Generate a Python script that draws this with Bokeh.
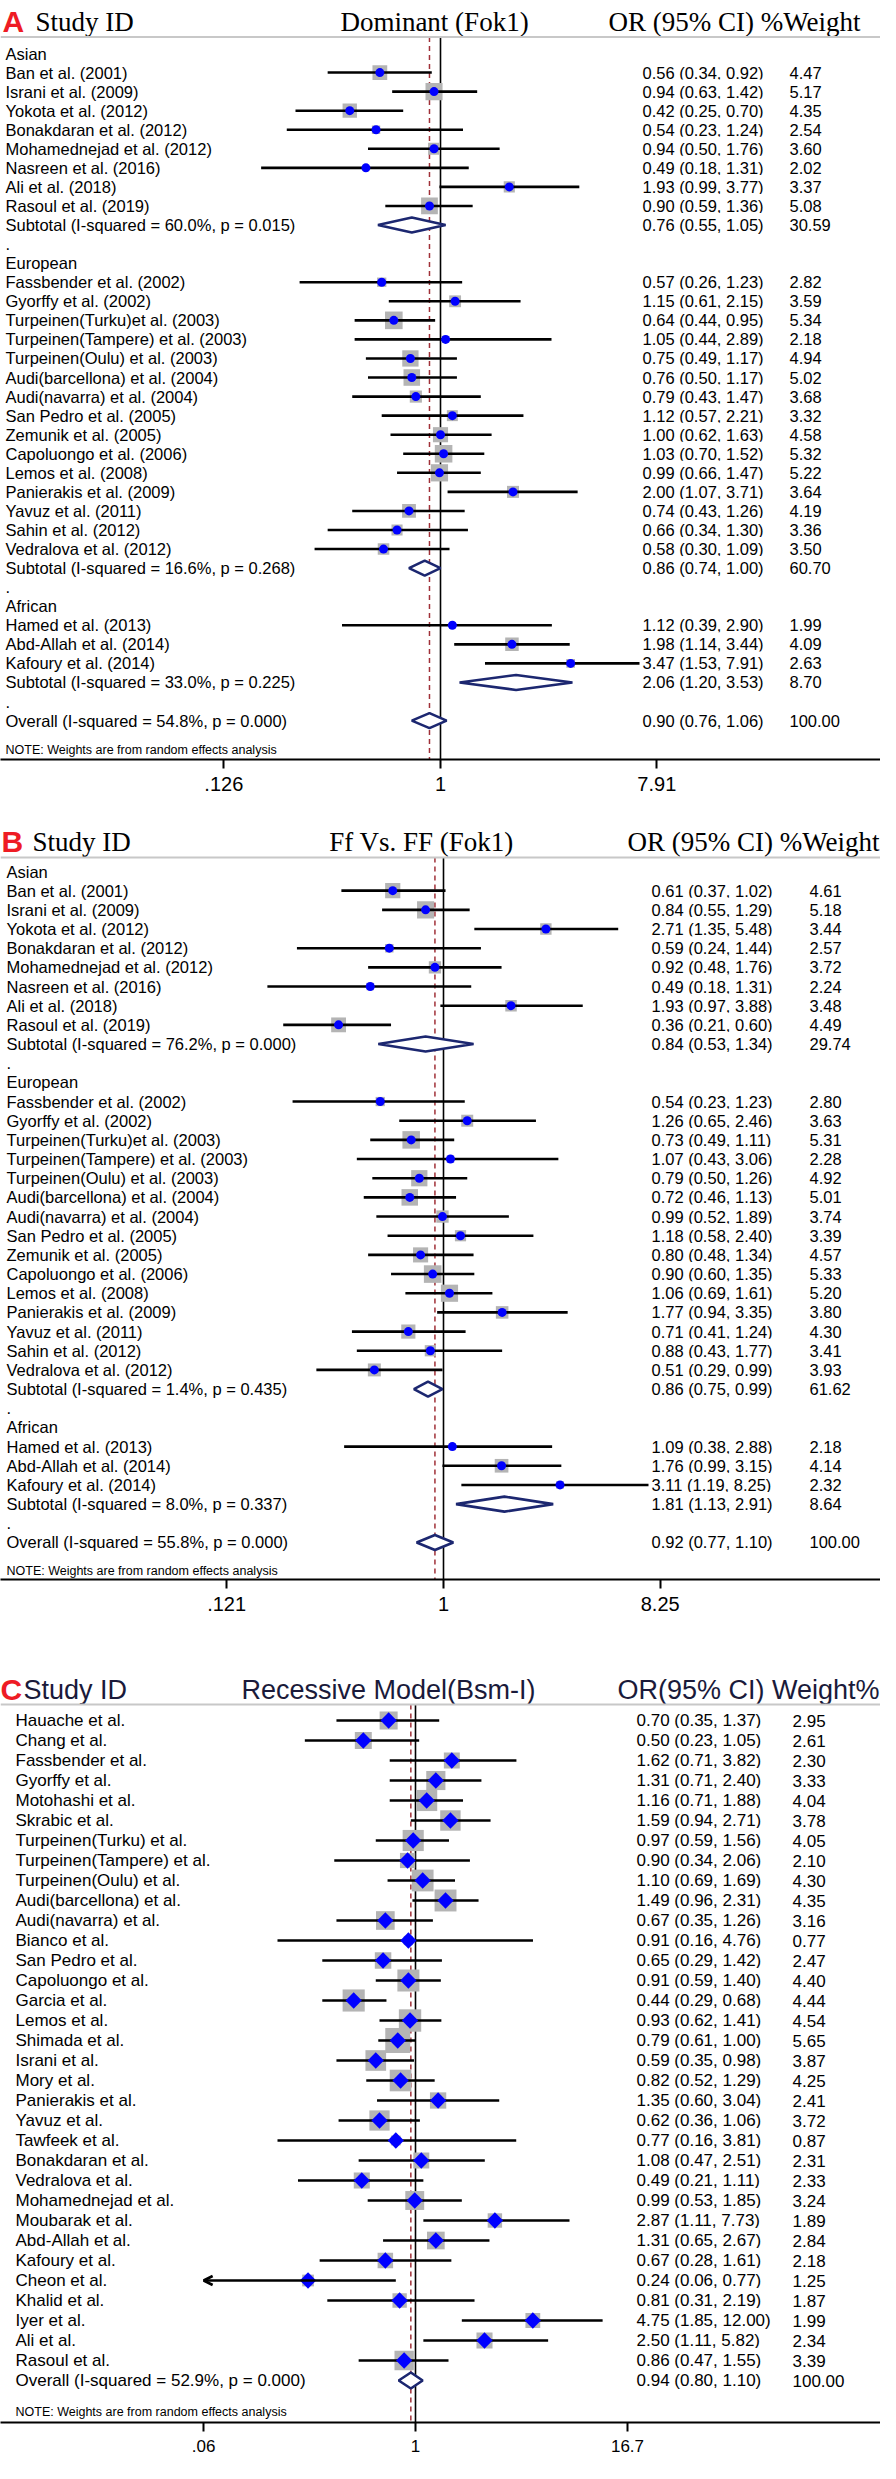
import math
from bokeh.plotting import figure
from bokeh.models import Range1d, FixedTicker, Span, Arrow, OpenHead
from bokeh.layouts import column
from bokeh.embed import file_html
from bokeh.resources import INLINE
from bokeh.core.properties import value

# ---------------- Panel A : Dominant (Fok1) ----------------
a_asian_studies = ["Ban et al. (2001)", "Israni et al. (2009)", "Yokota et al. (2012)",
                   "Bonakdaran et al. (2012)", "Mohamednejad  et al. (2012)", "Nasreen et al. (2016)",
                   "Ali et al. (2018)", "Rasoul et al. (2019)"]
a_asian_or = [0.56, 0.94, 0.42, 0.54, 0.94, 0.49, 1.93, 0.90]
a_asian_lo = [0.34, 0.63, 0.25, 0.23, 0.50, 0.18, 0.99, 0.59]
a_asian_hi = [0.92, 1.42, 0.70, 1.24, 1.76, 1.31, 3.77, 1.36]
a_asian_w = [4.47, 5.17, 4.35, 2.54, 3.60, 2.02, 3.37, 5.08]
a_asian_sub = ["Subtotal  (I-squared = 60.0%, p = 0.015)", 0.76, 0.55, 1.05, 30.59]

eu_studies = ["Fassbender et al. (2002)", "Gyorffy et al. (2002)", "Turpeinen(Turku)et al. (2003)",
              "Turpeinen(Tampere) et al. (2003)", "Turpeinen(Oulu) et al. (2003)",
              "Audi(barcellona) et al. (2004)", "Audi(navarra) et al. (2004)", "San Pedro et al. (2005)",
              "Zemunik et al. (2005)", "Capoluongo et al. (2006)", "Lemos et al. (2008)",
              "Panierakis et al. (2009)", "Yavuz et al. (2011)", "Sahin et al. (2012)",
              "Vedralova et al. (2012)"]
a_eu_or = [0.57, 1.15, 0.64, 1.05, 0.75, 0.76, 0.79, 1.12, 1.00, 1.03, 0.99, 2.00, 0.74, 0.66, 0.58]
a_eu_lo = [0.26, 0.61, 0.44, 0.44, 0.49, 0.50, 0.43, 0.57, 0.62, 0.70, 0.66, 1.07, 0.43, 0.34, 0.30]
a_eu_hi = [1.23, 2.15, 0.95, 2.89, 1.17, 1.17, 1.47, 2.21, 1.63, 1.52, 1.47, 3.71, 1.26, 1.30, 1.09]
a_eu_w = [2.82, 3.59, 5.34, 2.18, 4.94, 5.02, 3.68, 3.32, 4.58, 5.32, 5.22, 3.64, 4.19, 3.36, 3.50]
a_eu_sub = ["Subtotal  (I-squared = 16.6%, p = 0.268)", 0.86, 0.74, 1.00, 60.70]

af_studies = ["Hamed et al. (2013)", "Abd-Allah et al. (2014)", "Kafoury et al. (2014)"]
a_af_or = [1.12, 1.98, 3.47]
a_af_lo = [0.39, 1.14, 1.53]
a_af_hi = [2.90, 3.44, 7.91]
a_af_w = [1.99, 4.09, 2.63]
a_af_sub = ["Subtotal  (I-squared = 33.0%, p = 0.225)", 2.06, 1.20, 3.53, 8.70]

a_overall = ["Overall  (I-squared = 54.8%, p = 0.000)", 0.90, 0.76, 1.06, 100.00]
a_ticks = [0.126, 1, 7.91]
a_tick_labels = [".126", "1", "7.91"]

# ---------------- Panel B : Ff Vs. FF (Fok1) ----------------
b_asian_or = [0.61, 0.84, 2.71, 0.59, 0.92, 0.49, 1.93, 0.36]
b_asian_lo = [0.37, 0.55, 1.35, 0.24, 0.48, 0.18, 0.97, 0.21]
b_asian_hi = [1.02, 1.29, 5.48, 1.44, 1.76, 1.31, 3.88, 0.60]
b_asian_w = [4.61, 5.18, 3.44, 2.57, 3.72, 2.24, 3.48, 4.49]
b_asian_sub = ["Subtotal  (I-squared = 76.2%, p = 0.000)", 0.84, 0.53, 1.34, 29.74]

b_eu_or = [0.54, 1.26, 0.73, 1.07, 0.79, 0.72, 0.99, 1.18, 0.80, 0.90, 1.06, 1.77, 0.71, 0.88, 0.51]
b_eu_lo = [0.23, 0.65, 0.49, 0.43, 0.50, 0.46, 0.52, 0.58, 0.48, 0.60, 0.69, 0.94, 0.41, 0.43, 0.29]
b_eu_hi = [1.23, 2.46, 1.11, 3.06, 1.26, 1.13, 1.89, 2.40, 1.34, 1.35, 1.61, 3.35, 1.24, 1.77, 0.99]
b_eu_w = [2.80, 3.63, 5.31, 2.28, 4.92, 5.01, 3.74, 3.39, 4.57, 5.33, 5.20, 3.80, 4.30, 3.41, 3.93]
b_eu_sub = ["Subtotal  (I-squared = 1.4%, p = 0.435)", 0.86, 0.75, 0.99, 61.62]

b_af_or = [1.09, 1.76, 3.11]
b_af_lo = [0.38, 0.99, 1.19]
b_af_hi = [2.88, 3.15, 8.25]
b_af_w = [2.18, 4.14, 2.32]
b_af_sub = ["Subtotal  (I-squared = 8.0%, p = 0.337)", 1.81, 1.13, 2.91, 8.64]

b_overall = ["Overall  (I-squared = 55.8%, p = 0.000)", 0.92, 0.77, 1.10, 100.00]
b_ticks = [0.121, 1, 8.25]
b_tick_labels = [".121", "1", "8.25"]

# ---------------- Panel C : Recessive Model (Bsm-I) ----------------
c_studies = ["Hauache et al.", "Chang et al.", "Fassbender  et al.", "Gyorffy et al.", "Motohashi et al.",
             "Skrabic et al.", "Turpeinen(Turku) et al.", "Turpeinen(Tampere) et al.",
             "Turpeinen(Oulu) et al.", "Audi(barcellona) et al.", "Audi(navarra) et al.", "Bianco et al.",
             "San Pedro et al.", "Capoluongo et al.", "Garcia et al.", "Lemos et al.", "Shimada et al.",
             "Israni et al.", "Mory et al.", "Panierakis et al.", "Yavuz et al.", "Tawfeek et al.",
             "Bonakdaran et al.", "Vedralova et al.", "Mohamednejad et al.", "Moubarak et al.",
             "Abd-Allah et al.", "Kafoury et al.", "Cheon et al.", "Khalid et al.", "Iyer et al.",
             "Ali et al.", "Rasoul et al."]
c_or = [0.70, 0.50, 1.62, 1.31, 1.16, 1.59, 0.97, 0.90, 1.10, 1.49, 0.67, 0.91, 0.65, 0.91, 0.44, 0.93,
        0.79, 0.59, 0.82, 1.35, 0.62, 0.77, 1.08, 0.49, 0.99, 2.87, 1.31, 0.67, 0.24, 0.81, 4.75, 2.50, 0.86]
c_lo = [0.35, 0.23, 0.71, 0.71, 0.71, 0.94, 0.59, 0.34, 0.69, 0.96, 0.35, 0.16, 0.29, 0.59, 0.29, 0.62,
        0.61, 0.35, 0.52, 0.60, 0.36, 0.16, 0.47, 0.21, 0.53, 1.11, 0.65, 0.28, 0.06, 0.31, 1.85, 1.11, 0.47]
c_hi = [1.37, 1.05, 3.82, 2.40, 1.88, 2.71, 1.56, 2.06, 1.69, 2.31, 1.26, 4.76, 1.42, 1.40, 0.68, 1.41,
        1.00, 0.98, 1.29, 3.04, 1.06, 3.81, 2.51, 1.11, 1.85, 7.73, 2.67, 1.61, 0.77, 2.19, 12.00, 5.82, 1.55]
c_w = [2.95, 2.61, 2.30, 3.33, 4.04, 3.78, 4.05, 2.10, 4.30, 4.35, 3.16, 0.77, 2.47, 4.40, 4.44, 4.54,
       5.65, 3.87, 4.25, 2.41, 3.72, 0.87, 2.31, 2.33, 3.24, 1.89, 2.84, 2.18, 1.25, 1.87, 1.99, 2.34, 3.39]
c_overall = ["Overall  (I-squared = 52.9%, p = 0.000)", 0.94, 0.80, 1.10, 100.00]
c_ticks = [0.06, 1, 16.7]
c_tick_labels = [".06", "1", "16.7"]

NOTE = "NOTE: Weights are from random effects analysis"
SANS = value("Liberation Sans")
SERIF = value("Liberation Serif")
NAVY = "#1c2770"
DASH_RED = "#a03038"
BOX_GREY = "#b4b4b4"


def grouped_rows(groups, overall):
    rows = []
    for name, studies, ors, los, his, ws, sub in groups:
        rows.append(dict(kind="head", label=name))
        for s, o, l, h, w in zip(studies, ors, los, his, ws):
            rows.append(dict(kind="study", label=s, est=o, lo=l, hi=h, w=w))
        rows.append(dict(kind="sub", label=sub[0], est=sub[1], lo=sub[2], hi=sub[3], w=sub[4]))
        rows.append(dict(kind="blank", label="."))
    rows.append(dict(kind="sub", label=overall[0], est=overall[1], lo=overall[2], hi=overall[3], w=overall[4]))
    return rows


def flat_rows(studies, ors, los, his, ws, overall):
    rows = [dict(kind="study", label=s, est=o, lo=l, hi=h, w=w) for s, o, l, h, w in zip(studies, ors, los, his, ws)]
    rows.append(dict(kind="sub", label=overall[0], est=overall[1], lo=overall[2], hi=overall[3], w=overall[4]))
    return rows


def make_panel(rows, cfg):
    K, X1 = cfg["K"], cfg["X1"]

    def dx(px):
        return math.exp((px - X1) / K)

    def dy(py):
        return (py - cfg["row0"]) / cfg["sp"]

    top, axis_y, H = cfg["top"], cfg["axis"], cfg["height"]
    p = figure(width=880, height=H, x_axis_type="log",
               x_range=Range1d(dx(8), dx(888)),
               y_range=Range1d(start=dy(axis_y), end=dy(top)),
               output_backend="svg", toolbar_location=None, y_axis_location=None,
               min_border_left=0, min_border_right=0, min_border_top=0,
               min_border_bottom=H - (axis_y - top))
    p.outline_line_color = None
    p.xgrid.visible = False
    p.ygrid.visible = False
    p.background_fill_color = "white"
    p.border_fill_color = "white"

    ax = p.xaxis[0]
    ax.ticker = FixedTicker(ticks=cfg["ticks"])
    ax.major_label_overrides = {t: l for t, l in zip(cfg["ticks"], cfg["tick_labels"])}
    ax.minor_tick_line_color = None
    ax.major_tick_in = 0
    ax.major_tick_out = 9
    ax.major_tick_line_width = 2
    ax.axis_line_width = 2
    ax.axis_line_color = "black"
    ax.major_tick_line_color = "black"
    ax.major_label_text_font = "Liberation Sans"
    ax.major_label_text_font_size = cfg["tick_font"]
    ax.major_label_text_color = "black"
    ax.major_label_standoff = 8

    # separator line below the header
    p.add_layout(Span(location=dy(cfg["gray"]), dimension="width", line_color="#c8c8c8", line_width=2))

    overall = rows[-1]
    y_top, y_bot = dy(cfg["gray"]), dy(axis_y)
    p.segment(x0=[1], y0=[y_top], x1=[1], y1=[y_bot], line_color="black", line_width=1.6)
    p.segment(x0=[overall["est"]], y0=[y_top], x1=[overall["est"]], y1=[y_bot],
              line_color=DASH_RED, line_width=1.5, line_dash="5 4")

    st = [(i, r) for i, r in enumerate(rows) if r["kind"] == "study"]
    ys = [i for i, _ in st]
    est = [r["est"] for _, r in st]
    lo = [r["lo"] for _, r in st]
    hi = [r["hi"] for _, r in st]
    sizes = [cfg["box"](r["w"]) for _, r in st]

    p.scatter(x=est, y=ys, size=sizes, marker="square", fill_color=BOX_GREY, line_color=None)
    xmin = cfg["ticks"][0]
    seg = [(i, l, h) for i, l, h in zip(ys, lo, hi) if l > xmin]
    p.segment(x0=[l for _, l, _ in seg], y0=[i for i, _, _ in seg],
              x1=[h for _, _, h in seg], y1=[i for i, _, _ in seg],
              line_color="black", line_width=2.6)
    for i, l, h, e in zip(ys, lo, hi, est):
        if l <= xmin:
            p.add_layout(Arrow(end=OpenHead(size=9, line_width=2.6, line_color="black"),
                               x_start=h, y_start=i, x_end=xmin, y_end=i,
                               line_width=2.6, line_color="black"))
    if cfg["marker"] == "circle":
        p.scatter(x=est, y=ys, size=9, marker="circle", fill_color="#0000ff", line_color=None)
    else:
        p.scatter(x=est, y=ys, size=11.5, marker="square", angle=math.pi / 4,
                  fill_color="#0000ff", line_color=None)

    # diamonds for subtotals / overall
    dxs, dys = [], []
    h = cfg["dh"] / cfg["sp"]
    for i, r in enumerate(rows):
        if r["kind"] == "sub":
            dxs.append([r["lo"], r["est"], r["hi"], r["est"]])
            dys.append([i, i - h, i, i + h])
    p.patches(xs=dxs, ys=dys, fill_color="white", line_color=NAVY, line_width=2.6)

    # left labels
    p.text(x=[dx(cfg["lab_x"])] * len(rows), y=list(range(len(rows))), text=[r["label"] for r in rows],
           text_font=SANS, text_font_size=value(cfg["row_font"]), text_baseline="middle",
           text_align="left", text_color="black")
    # OR and weight columns
    num = [(i, r) for i, r in enumerate(rows) if r["kind"] in ("study", "sub")]
    p.text(x=[dx(cfg["or_x"])] * len(num), y=[i for i, _ in num],
           text=["%.2f (%.2f, %.2f)" % (r["est"], r["lo"], r["hi"]) for _, r in num],
           text_font=SANS, text_font_size=value(cfg["row_font"]), text_baseline="middle",
           text_align="left", text_color="black", background_fill_color="white", padding=3)
    p.text(x=[dx(cfg["w_x"])] * len(num), y=[i for i, _ in num],
           text=["%.2f" % r["w"] for _, r in num],
           text_font=SANS, text_font_size=value(cfg["row_font"]), text_baseline="middle",
           text_align="left", text_color="black")
    # note
    p.text(x=[dx(cfg["lab_x"])], y=[dy(cfg["note"])], text=[NOTE], text_font=SANS,
           text_font_size=value(cfg["note_font"]), text_baseline="middle", text_color="black")

    # header
    hb = dy(cfg["hbase"])
    p.text(x=[dx(cfg["letter_x"])], y=[hb], text=[cfg["letter"]], text_font=SANS,
           text_font_style="bold", text_font_size=value(cfg["letter_font"]), text_color="#ee1c24",
           text_baseline="alphabetic")
    hf = cfg["head_font"]
    hc = cfg["head_color"]
    p.text(x=[dx(cfg["sid_x"])], y=[hb], text=["Study ID"], text_font=cfg["head_family"],
           text_font_size=value(hf), text_color=hc, text_baseline="alphabetic")
    p.text(x=[dx(cfg["title_x"])], y=[hb], text=[cfg["title"]], text_font=cfg["head_family"],
           text_font_size=value(hf), text_color=hc, text_baseline="alphabetic", text_align="center")
    p.text(x=[dx(cfg["orh_x"])], y=[hb], text=[cfg["orh"]], text_font=cfg["head_family"],
           text_font_size=value(hf), text_color=hc, text_baseline="alphabetic", text_align=cfg["orh_align"])
    return p


rows_a = grouped_rows([("Asian", a_asian_studies, a_asian_or, a_asian_lo, a_asian_hi, a_asian_w, a_asian_sub),
                       ("European", eu_studies, a_eu_or, a_eu_lo, a_eu_hi, a_eu_w, a_eu_sub),
                       ("African", af_studies, a_af_or, a_af_lo, a_af_hi, a_af_w, a_af_sub)], a_overall)
rows_b = grouped_rows([("Asian", a_asian_studies, b_asian_or, b_asian_lo, b_asian_hi, b_asian_w, b_asian_sub),
                       ("European", eu_studies, b_eu_or, b_eu_lo, b_eu_hi, b_eu_w, b_eu_sub),
                       ("African", af_studies, b_af_or, b_af_lo, b_af_hi, b_af_w, b_af_sub)], b_overall)
rows_c = flat_rows(c_studies, c_or, c_lo, c_hi, c_w, c_overall)

cfg_a = dict(K=104.6, X1=448, row0=61, sp=19.06, top=8, axis=767, height=812, gray=44.5,
             lab_x=13, or_x=647, w_x=797, note=757, hbase=29, ticks=a_ticks, tick_labels=a_tick_labels,
             tick_font="20px", row_font="16.5px", note_font="12.5px", box=lambda w: 3.3 * w,
             marker="circle", dh=7.5, letter="A", letter_x=10, letter_font="30px",
             sid_x=43, title="Dominant (Fok1)", title_x=442, orh="OR (95% CI) %Weight", orh_x=616,
             orh_align="left", head_font="27px", head_family=SERIF, head_color="black")
cfg_b = dict(K=102.7, X1=451, row0=879, sp=19.17, top=820, axis=1587, height=820, gray=865,
             lab_x=14, or_x=656, w_x=817, note=1578, hbase=849, ticks=b_ticks, tick_labels=b_tick_labels,
             tick_font="20px", row_font="16.5px", note_font="12.5px", box=lambda w: 3.3 * w,
             marker="circle", dh=7.5, letter="B", letter_x=9, letter_font="30px",
             sid_x=40, title="Ff Vs. FF (Fok1)", title_x=429, orh="OR (95% CI) %Weight", orh_x=887,
             orh_align="right", head_font="27px", head_family=SERIF, head_color="black")
cfg_c = dict(K=75.3, X1=423, row0=1728, sp=20.0, top=1640, axis=2430, height=831, gray=1712,
             lab_x=23, or_x=641, w_x=800, note=2419, hbase=1697, ticks=c_ticks, tick_labels=c_tick_labels,
             tick_font="17px", row_font="17px", note_font="12.5px", box=lambda w: 10.5 * math.sqrt(w),
             marker="diamond", dh=8, letter="C", letter_x=8, letter_font="30px",
             sid_x=31, title="Recessive Model(Bsm-I)", title_x=396, orh="OR(95% CI) Weight%", orh_x=887,
             orh_align="right", head_font="27px", head_family=SANS, head_color="#1a1a3a")

pa = make_panel(rows_a, cfg_a)
pb = make_panel(rows_b, cfg_b)
pc = make_panel(rows_c, cfg_c)

layout = column(pa, pb, pc, spacing=0)
open("out.html", "w").write(file_html(layout, INLINE))
